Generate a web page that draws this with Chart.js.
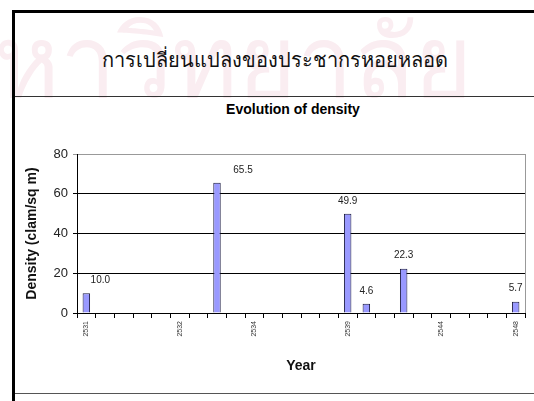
<!DOCTYPE html>
<html>
<head>
<meta charset="utf-8">
<script src="https://cdn.jsdelivr.net/npm/chart.js@4"></script>
<style>
  html, body { margin: 0; padding: 0; background: #fff; }
  #page { position: relative; width: 534px; height: 401px; overflow: hidden; }
  #watermark { position: absolute; left: -6px; top: -18px; font: 100px "Noto Sans", sans-serif; color: #faedf1; white-space: nowrap; }
  #frame { position: absolute; left: 12px; top: 10px; right: -5px; bottom: -5px; border-left: 3px solid #000; border-top: 3px solid #000; }
  #thaiTitle { position: absolute; left: 0; width: 550px; top: 44px; text-align: center; font: 20px "Noto Sans", serif; color: #111; }
  #chartTitle { position: absolute; left: 193px; width: 200px; top: 101px; text-align: center; font: bold 14px Arial, "Liberation Sans", sans-serif; color: #000; }
  #rule1 { position: absolute; left: 15px; right: 0; top: 96px; border-top: 1px solid #333; }
  #rule2 { position: absolute; left: 15px; right: 0; top: 393px; border-top: 1px solid #555; }
  canvas { position: absolute; left: 0; top: 0; }
</style>
</head>
<body>
<div id="page">
  <div id="watermark">หาวิทยาลัย</div>
  <div id="frame"></div>
  <div id="thaiTitle">การเปลี่ยนแปลงของประชากรหอยหลอด</div>
  <div id="rule1"></div>
  <div id="rule2"></div>
  <div id="chartTitle">Evolution of density</div>
  <canvas id="chart" width="534" height="401"></canvas>
</div>
<script>
  const years = ['2531', '', '', '', '', '2532', '', '', '', '2534', '', '', '', '', '2539', '', '', '', '', '2544', '', '', '', '2548'];
  const density = [10.0, null, null, null, null, null, null, 65.5, null, null, null, null, null, null, 49.9, 4.6, null, 22.3, null, null, null, null, null, 5.7];
  const yTicks = [0, 20, 40, 60, 80];

  // value labels above the bars (a couple sit off to the right like the original)
  const barLabels = {
    id: 'barLabels',
    afterDatasetsDraw(chart, args, opts) {
      const ctx = chart.ctx;
      const meta = chart.getDatasetMeta(0);
      ctx.save();
      ctx.font = '10px Arial, "Liberation Sans", sans-serif';
      ctx.fillStyle = '#222';
      ctx.textAlign = 'center';
      ctx.textBaseline = 'middle';
      meta.data.forEach((bar, i) => {
        const v = density[i];
        if (v === null) return;
        const dx = opts.shift[i] || 0;
        ctx.fillText(v.toFixed(1), bar.x + dx, bar.y - 13);
      });
      ctx.restore();
    }
  };

  const plotBorder = {
    id: 'plotBorder',
    afterDraw(chart) {
      const a = chart.chartArea, ctx = chart.ctx;
      ctx.save();
      ctx.strokeStyle = '#999';
      ctx.lineWidth = 1;
      ctx.beginPath();
      ctx.moveTo(a.right + 0.5, a.top);
      ctx.lineTo(a.right + 0.5, a.bottom);
      ctx.stroke();
      ctx.restore();
    }
  };

  new Chart(document.getElementById('chart'), {
    type: 'bar',
    data: {
      labels: years,
      datasets: [{
        data: density,
        backgroundColor: '#9999ff',
        borderColor: '#1a1a40',
        borderWidth: 1,
        barPercentage: 0.4,
        categoryPercentage: 1
      }]
    },
    options: {
      responsive: false,
      animation: false,
      layout: { padding: { left: 24, right: 9, top: 154, bottom: 22 } },
      plugins: {
        legend: { display: false },
        tooltip: { enabled: false },
        title: { display: false },
        barLabels: { shift: { 0: 14, 7: 26 } }
      },
      scales: {
        x: {
          offset: true,
          afterFit: s => { s.height = 66; },
          grid: { display: true, drawOnChartArea: false, offset: true, color: '#000', tickLength: 5 },
          border: { color: '#000' },
          ticks: {
            autoSkip: false, minRotation: 90, maxRotation: 90,
            color: '#333', font: { family: 'Arial, sans-serif', size: 7 }, padding: 3
          },
          title: {
            display: true, text: 'Year', color: '#111',
            font: { family: 'Arial, "Liberation Sans", sans-serif', size: 14, weight: 'bold' },
            padding: { top: 4, bottom: 4 }
          }
        },
        y: {
          min: 0, max: 80,
          afterFit: s => { s.width = 53; },
          afterBuildTicks: s => { s.ticks = yTicks.map(v => ({ value: v })); },
          grid: { color: ctx => ctx.tick && ctx.tick.value === 80 ? '#999' : '#000', tickLength: 4 },
          border: { color: '#000' },
          ticks: { color: '#222', font: { family: 'Arial, "Liberation Sans", sans-serif', size: 13 }, padding: 5 },
          title: {
            display: true, text: 'Density (clam/sq m)', color: '#111',
            font: { family: 'Arial, "Liberation Sans", sans-serif', size: 14, weight: 'bold' },
            padding: { top: 0, bottom: 6 }
          }
        }
      }
    },
    plugins: [barLabels, plotBorder]
  });
</script>
</body>
</html>
